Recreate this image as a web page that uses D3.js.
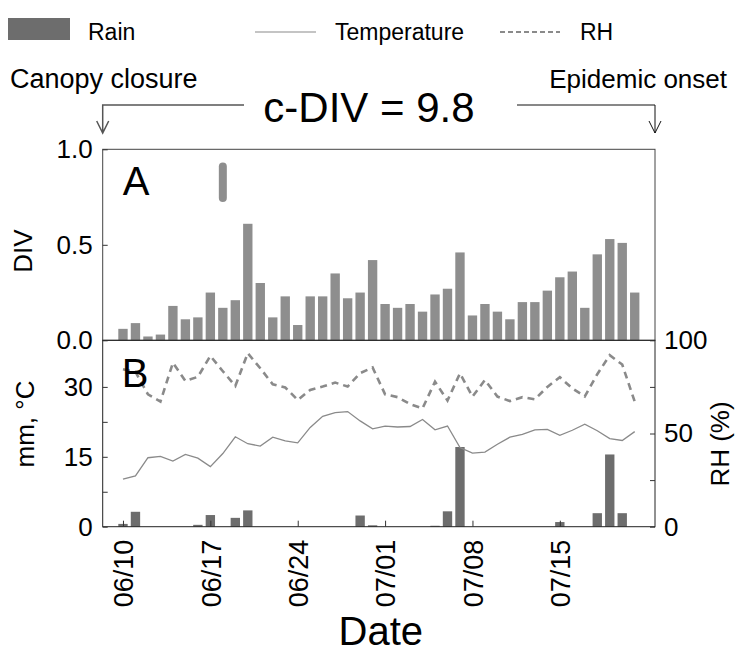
<!DOCTYPE html>
<html>
<head>
<meta charset="utf-8">
<script src="https://cdn.jsdelivr.net/npm/d3@7"></script>
<style>
  body { margin: 0; background: #fff; }
  svg text { font-family: "Liberation Sans", Arial, sans-serif; fill: #000; }
</style>
</head>
<body>
<div id="chart"></div>
<script>
// data
const dates = [
  "06/10","06/11","06/12","06/13","06/14","06/15","06/16","06/17","06/18","06/19","06/20",
  "06/21","06/22","06/23","06/24","06/25","06/26","06/27","06/28","06/29","06/30",
  "07/01","07/02","07/03","07/04","07/05","07/06","07/07","07/08","07/09","07/10",
  "07/11","07/12","07/13","07/14","07/15","07/16","07/17","07/18","07/19","07/20","07/21"
]
const divValues = [
  0.06,0.09,0.02,0.03,0.18,0.11,0.12,0.25,0.17,0.21,0.61,
  0.30,0.12,0.23,0.08,0.23,0.23,0.35,0.22,0.25,0.42,
  0.19,0.17,0.19,0.15,0.24,0.27,0.46,0.13,0.19,0.15,
  0.11,0.20,0.20,0.26,0.33,0.36,0.17,0.45,0.53,0.51,0.25
]
const rain = [
  0.6,3.2,0,0,0,0,0.4,2.5,0,1.9,3.5,
  0,0,0,0,0,0,0,0,2.4,0.3,
  0,0,0,0,0.2,3.3,17.1,0,0,0,
  0,0,0,0,1.0,0,0,2.9,15.5,2.9,0
]
const temperature = [
  10.2,10.9,14.8,15.1,14.1,15.5,14.7,12.9,15.7,19.3,17.8,
  17.3,19.2,18.4,18.0,21.3,23.7,24.5,24.7,22.7,21.0,
  21.6,21.4,21.5,23.0,20.8,21.6,17.0,15.8,16.0,17.7,
  19.2,19.8,20.8,20.9,19.6,20.7,22.0,20.6,18.9,18.5,20.4
]
const rh = [
  84.5,83.0,71.0,67.1,87.9,78.2,80.4,91.6,83.4,75.5,93.1,
  85.0,76.4,74.7,68.0,73.4,75.2,77.3,75.2,82.4,85.4,
  71.0,69.5,65.8,63.5,77.8,67.7,82.3,69.8,78.7,69.8,
  67.4,69.5,68.3,75.0,80.2,74.2,69.9,81.8,92.0,87.0,67.1
]
const tickDates = ["06/10","06/17","06/24","07/01","07/08","07/15"]
const divTicks = [0, 0.5, 1]
const mmTicks = [0, 7.5, 15, 22.5, 30]
const mmLabels = [0, 15, 30]
const rhTicks = [0, 25, 50, 75, 100]
const rhLabels = [0, 50, 100]
const markerDay = "06/18"
const markerRange = [0.745, 0.91]
const cDiv = 9.8

function drawChart() {

  // 1. Access data
  const parseDate = s => d3.utcParse("%Y/%m/%d")("2015/" + s)
  const dataset = dates.map((d, i) => ({
    date: parseDate(d),
    div: divValues[i],
    rain: rain[i],
    temp: temperature[i],
    rh: rh[i],
  }))
  const dateAccessor = d => d.date

  // 2. Create chart dimensions
  let dimensions = {
    width: 737,
    height: 655,
    margin: {
      top: 149.3,
      right: 82,
      bottom: 128.3,
      left: 102.7,
    },
  }
  dimensions.boundedWidth = dimensions.width - dimensions.margin.left - dimensions.margin.right
  dimensions.panelA = 191
  dimensions.panelB = dimensions.height - dimensions.margin.top - dimensions.margin.bottom - dimensions.panelA

  // 3. Draw canvas
  const svg = d3.select("#chart")
    .append("svg")
      .attr("width", dimensions.width)
      .attr("height", dimensions.height)

  const bounds = svg.append("g")
      .attr("transform", `translate(${dimensions.margin.left}, ${dimensions.margin.top})`)

  // 4. Create scales
  const first = dataset[0].date
  const last = dataset[dataset.length - 1].date
  const xScale = d3.scaleUtc()
    .domain([d3.utcHour.offset(first, -38.4), d3.utcHour.offset(last, 39)])
    .range([0, dimensions.boundedWidth])

  const divScale = d3.scaleLinear()
    .domain([0, 1])
    .range([dimensions.panelA, 0])

  const mmScale = d3.scaleLinear()
    .domain([0, 40])
    .range([dimensions.panelA + dimensions.panelB, dimensions.panelA])

  const rhScale = d3.scaleLinear()
    .domain([0, 100])
    .range([dimensions.panelA + dimensions.panelB, dimensions.panelA])

  const step = xScale(d3.utcDay.offset(first, 1)) - xScale(first)
  const barWidth = step * 0.75

  // 5. Draw data
  // panel A: DIV bars
  bounds.append("g")
      .attr("class", "div-bars")
    .selectAll("rect")
    .data(dataset)
    .join("rect")
      .attr("x", d => xScale(dateAccessor(d)) - barWidth / 2)
      .attr("y", d => divScale(d.div))
      .attr("width", barWidth)
      .attr("height", d => divScale(0) - divScale(d.div))
      .attr("fill", "#8e8e8e")

  // marker
  bounds.append("line")
      .attr("x1", xScale(parseDate(markerDay)))
      .attr("x2", xScale(parseDate(markerDay)))
      .attr("y1", divScale(markerRange[0]))
      .attr("y2", divScale(markerRange[1]))
      .attr("stroke", "#8e8e8e")
      .attr("stroke-width", 8)
      .attr("stroke-linecap", "round")

  // panel B: rain bars
  bounds.append("g")
      .attr("class", "rain-bars")
    .selectAll("rect")
    .data(dataset.filter(d => d.rain > 0))
    .join("rect")
      .attr("x", d => xScale(dateAccessor(d)) - barWidth / 2)
      .attr("y", d => mmScale(d.rain))
      .attr("width", barWidth)
      .attr("height", d => mmScale(0) - mmScale(d.rain))
      .attr("fill", "#6d6d6d")

  const tempLine = d3.line()
    .x(d => xScale(dateAccessor(d)))
    .y(d => mmScale(d.temp))
  bounds.append("path")
      .attr("d", tempLine(dataset))
      .attr("fill", "none")
      .attr("stroke", "#8a8a8a")
      .attr("stroke-width", 1.3)

  const rhLine = d3.line()
    .x(d => xScale(dateAccessor(d)))
    .y(d => rhScale(d.rh))
  bounds.append("path")
      .attr("d", rhLine(dataset))
      .attr("fill", "none")
      .attr("stroke", "#8a8a8a")
      .attr("stroke-width", 2.6)
      .attr("stroke-dasharray", "7,5")

  // 6. Draw peripherals
  // frames
  bounds.append("rect")
      .attr("width", dimensions.boundedWidth)
      .attr("height", dimensions.panelA)
      .attr("fill", "none")
      .attr("stroke", "#444")
  bounds.append("rect")
      .attr("y", dimensions.panelA)
      .attr("width", dimensions.boundedWidth)
      .attr("height", dimensions.panelB)
      .attr("fill", "none")
      .attr("stroke", "#222")

  const styleAxis = g => {
    g.select(".domain").remove()
    g.selectAll(".tick line").attr("stroke", "#333")
    g.selectAll(".tick text").style("font-size", "26px")
  }

  bounds.append("g")
      .call(d3.axisLeft(divScale)
        .tickValues(divTicks)
        .tickFormat(d3.format(".1f"))
        .tickSize(-5)
        .tickPadding(10))
      .call(styleAxis)

  bounds.append("g")
      .call(d3.axisLeft(mmScale)
        .tickValues(mmTicks)
        .tickFormat(d => mmLabels.includes(d) ? d : "")
        .tickSize(-5)
        .tickPadding(10))
      .call(styleAxis)

  bounds.append("g")
      .attr("transform", `translate(${dimensions.boundedWidth}, 0)`)
      .call(d3.axisRight(rhScale)
        .tickValues(rhTicks)
        .tickFormat(d => rhLabels.includes(d) ? d : "")
        .tickSize(-5)
        .tickPadding(9))
      .call(styleAxis)

  const xAxis = bounds.append("g")
      .attr("transform", `translate(0, ${dimensions.panelA + dimensions.panelB})`)
      .call(d3.axisBottom(xScale)
        .tickValues(tickDates.map(parseDate))
        .tickFormat(d3.utcFormat("%m/%d"))
        .tickSize(-6))
      .call(styleAxis)
  xAxis.selectAll(".tick text")
      .style("font-size", "27px")
      .attr("transform", "rotate(-90)")
      .attr("text-anchor", "end")
      .attr("x", -13)
      .attr("y", 0)
      .attr("dy", "0.36em")

  // panel letters
  bounds.append("text")
      .attr("x", 20)
      .attr("y", 46)
      .style("font-size", "40px")
      .text("A")
  bounds.append("text")
      .attr("x", 19)
      .attr("y", dimensions.panelA + 47)
      .style("font-size", "40px")
      .text("B")

  // axis labels
  svg.append("text")
      .attr("transform", "translate(32, 251) rotate(-90)")
      .attr("text-anchor", "middle")
      .style("font-size", "26px")
      .text("DIV")
  svg.append("text")
      .attr("transform", "translate(34, 424) rotate(-90)")
      .attr("text-anchor", "middle")
      .style("font-size", "26px")
      .text("mm, °C")
  svg.append("text")
      .attr("transform", "translate(729, 444) rotate(-90)")
      .attr("text-anchor", "middle")
      .style("font-size", "26px")
      .text("RH (%)")
  svg.append("text")
      .attr("x", dimensions.margin.left + dimensions.boundedWidth / 2 + 2)
      .attr("y", 645)
      .attr("text-anchor", "middle")
      .style("font-size", "40px")
      .text("Date")

  // legend
  const legend = svg.append("g")
  legend.append("rect")
      .attr("x", 8).attr("y", 18)
      .attr("width", 62).attr("height", 22)
      .attr("fill", "#6d6d6d")
  legend.append("text")
      .attr("x", 88).attr("y", 40)
      .style("font-size", "23px")
      .text("Rain")
  legend.append("line")
      .attr("x1", 255).attr("x2", 316)
      .attr("y1", 32).attr("y2", 32)
      .attr("stroke", "#8a8a8a")
      .attr("stroke-width", 1.2)
  legend.append("text")
      .attr("x", 335).attr("y", 40)
      .style("font-size", "23px")
      .text("Temperature")
  legend.append("line")
      .attr("x1", 500).attr("x2", 560)
      .attr("y1", 32).attr("y2", 32)
      .attr("stroke", "#8a8a8a")
      .attr("stroke-width", 2)
      .attr("stroke-dasharray", "5,3")
  legend.append("text")
      .attr("x", 580).attr("y", 40)
      .style("font-size", "23px")
      .text("RH")

  // annotation
  svg.append("text")
      .attr("x", 10).attr("y", 88)
      .style("font-size", "27px")
      .text("Canopy closure")
  svg.append("text")
      .attr("x", 727).attr("y", 88)
      .attr("text-anchor", "end")
      .style("font-size", "26px")
      .text("Epidemic onset")
  svg.append("text")
      .attr("x", 369).attr("y", 122)
      .attr("text-anchor", "middle")
      .style("font-size", "42px")
      .text(`c-DIV = ${cDiv}`)

  const leftX = dimensions.margin.left
  const rightX = dimensions.margin.left + dimensions.boundedWidth
  const arrowPath = (x0, x1) => `M${x0},105 H${x1} V133 M${x1 - 6},121 L${x1},133 L${x1 + 6},121`
  svg.append("path")
      .attr("d", arrowPath(244, leftX))
      .attr("fill", "none")
      .attr("stroke", "#555")
      .attr("stroke-width", 1.5)
  svg.append("path")
      .attr("d", arrowPath(517, rightX))
      .attr("fill", "none")
      .attr("stroke", "#111")
      .attr("stroke-width", 1)
}
drawChart()
</script>
</body>
</html>
